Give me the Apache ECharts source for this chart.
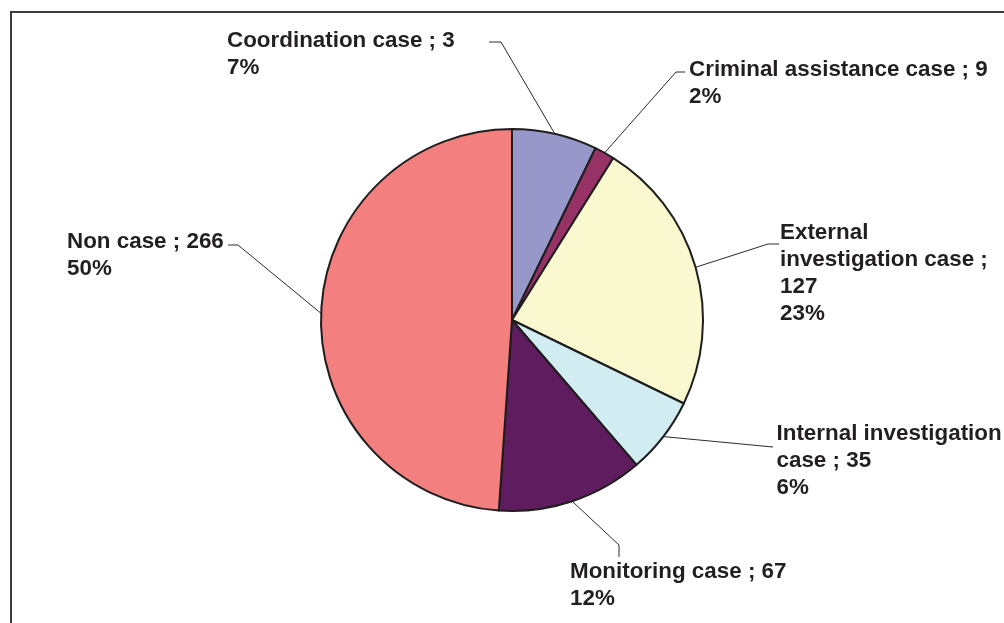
<!DOCTYPE html>
<html>
<head>
<meta charset="utf-8">
<script src="https://cdn.jsdelivr.net/npm/echarts@6/dist/echarts.min.js"></script>
<style>
html,body{margin:0;padding:0;background:#fff;}
#chart{width:1004px;height:623px;}
</style>
</head>
<body>
<div id="chart"></div>
<script>
// ---- data ----
const categories = ['Coordination case', 'Criminal assistance case', 'External investigation case', 'Internal investigation case', 'Monitoring case', 'Non case'];
// slice shares (percent of the circle)
const sliceShares = [7.2, 1.7, 23.3, 6.5, 12.4, 48.9];
// numbers printed in the labels
const labelCounts = [3, 9, 127, 35, 67, 266];
const labelPercents = [7, 2, 23, 6, 12, 50];

// ---- styles / layout ----
const colors = ['#9797c9', '#963265', '#faf8ce', '#d2edf1', '#5f1d5f', '#f37f7e'];
const labelWidths = [null, null, 218, 232, null, null];
const labelPlacement = [
  { x: 227, y: 26.5, line: [[501, 42], [489, 42]] },
  { x: 689, y: 55.5, line: [[676, 72], [685, 72]] },
  { x: 780, y: 218.5, line: [[768, 244], [779, 244]] },
  { x: 776.5, y: 419.5, line: [[773, 447]] },
  { x: 570, y: 557.5, line: [[619, 545], [619, 557]] },
  { x: 67, y: 227.5, line: [[238, 245], [228, 245]] }
];

const chart = echarts.init(document.getElementById('chart'), null, { renderer: 'canvas' });
const seriesData = categories.map((c, i) => {
  const item = { name: c, value: sliceShares[i], itemStyle: { color: colors[i] } };
  if (labelWidths[i]) item.label = { width: labelWidths[i], overflow: 'break' };
  return item;
});

chart.setOption({
  animation: false,
  backgroundColor: '#ffffff',
  graphic: [{
    type: 'rect',
    shape: { x: 11, y: 12, width: 1200, height: 800 },
    style: { fill: 'none', stroke: '#3c3c3c', lineWidth: 2 },
    silent: true,
    z: -10
  }],
  series: [{
    type: 'pie',
    center: [512, 320],
    radius: 191,
    startAngle: 90,
    clockwise: true,
    avoidLabelOverlap: false,
    emphasis: { disabled: true },
    itemStyle: { borderColor: '#1e1e1e', borderWidth: 2 },
    label: {
      show: true,
      position: 'outside',
      fontFamily: 'Liberation Sans, Arial, sans-serif',
      fontWeight: 'bold',
      fontSize: 22.4,
      lineHeight: 27,
      color: '#231f20',
      formatter: p => categories[p.dataIndex] + ' ; ' + labelCounts[p.dataIndex] + '\n' + labelPercents[p.dataIndex] + '%'
    },
    labelLine: {
      show: true,
      length: 20,
      length2: 10,
      lineStyle: { color: '#2a2a2a', width: 1 }
    },
    labelLayout: function (p) {
      const L = labelPlacement[p.dataIndex];
      const anchor = p.labelLinePoints ? p.labelLinePoints[0] : L.line[0];
      return {
        x: L.x,
        y: L.y + 0.5,
        align: 'left',
        verticalAlign: 'top',
        labelLinePoints: [anchor].concat(L.line)
      };
    },
    data: seriesData
  }]
});
</script>
</body>
</html>
